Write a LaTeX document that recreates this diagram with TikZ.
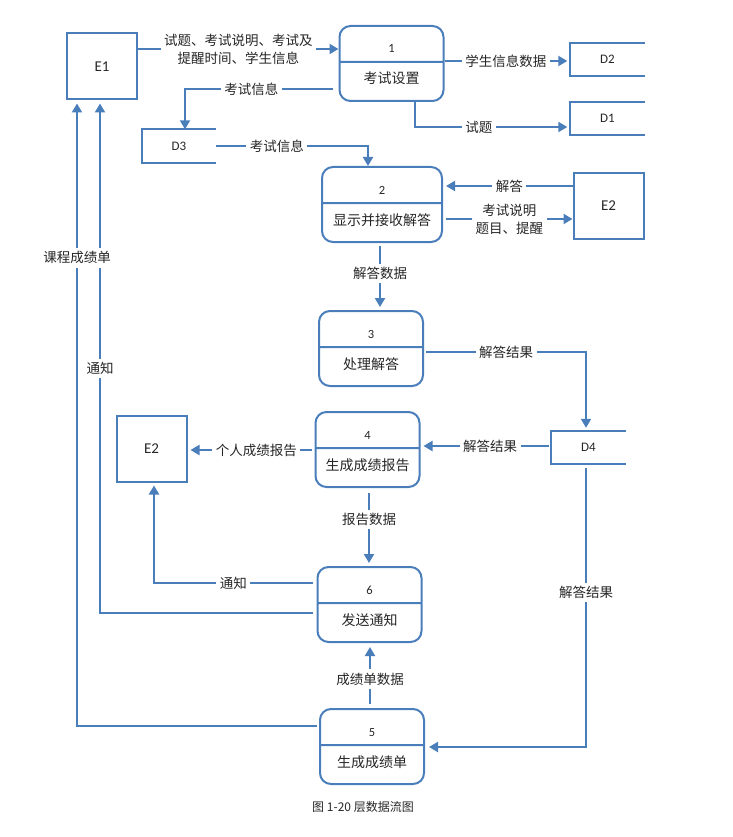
\documentclass[tikz,border=0pt]{standalone}
\usepackage{fontspec}
\setmainfont{Carlito}
\newfontfamily\cjk{Noto Sans CJK SC}
\usepackage{tikz}
\usetikzlibrary{arrows.meta,calc,shapes.multipart}

\definecolor{dfblue}{HTML}{4A7EBB}
\newcommand{\pnum}[1]{\fontsize{12.5}{14}\selectfont #1\rule[-8pt]{0pt}{34pt}}
\newcommand{\pname}[1]{\cjk\fontsize{14}{16}\selectfont #1\rule[-16pt]{0pt}{37pt}}

\tikzset{
  proc/.style={draw=dfblue, line width=2pt, rounded corners=11pt,
    rectangle split, rectangle split parts=2, inner sep=0pt,
    minimum width=104pt, anchor=north, text=black!85},
  ext/.style={draw=dfblue, line width=2pt, minimum width=70pt,
    minimum height=66pt, font=\fontsize{15}{17}\selectfont, text=black!85},
  store/.style={minimum width=74pt, minimum height=33pt,
    font=\fontsize{13}{15}\selectfont, text=black!85},
  flow/.style={draw=dfblue, line width=2pt, -{Triangle[length=9pt,width=10pt]}},
  lbl/.style={fill=white, inner sep=3.5pt, align=center, text=black!85,
    font=\cjk\fontsize{13.5}{18}\selectfont}
}

\begin{document}
\begin{tikzpicture}[x=1pt,y=-1pt]
    \useasboundingbox (0,0) rectangle (732,837);

    % External entities
    \node[ext] (e1) at (102,66.5) {E1};
    \node[ext] (e2r) at (608.5,206) {E2};
    \node[ext] (e2l) at (151.5,448.5) {E2};

    % Data stores
    \node[store] (d2) at (607.5,59.5) {D2};
    \node[store] (d1) at (607.5,118.5) {D1};
    \node[store] (d3) at (179,146) {D3};
    \node[store] (d4) at (588.5,447.5) {D4};
    \foreach \d in {d1,d2,d3,d4}
        \draw[dfblue, line width=2pt] (\d.north east) -| (\d.south west) -- (\d.south east);

    % Processes
    \node[proc] (p1) at (391.5,25) {\pnum{1}\nodepart{two}\pname{考试设置}};
    \node[proc, minimum width=120pt] (p2) at (382,166) {\pnum{2}\nodepart{two}\pname{显示并接收解答}};
    \node[proc] (p3) at (371,310) {\pnum{3}\nodepart{two}\pname{处理解答}};
    \node[proc] (p4) at (367.5,411) {\pnum{4}\nodepart{two}\pname{生成成绩报告}};
    \node[proc] (p6) at (369.5,566) {\pnum{6}\nodepart{two}\pname{发送通知}};
    \node[proc] (p5) at (372,708) {\pnum{5}\nodepart{two}\pname{生成成绩单}};

    % Flows around process 1
    \draw[flow] ($(e1.east)+(0,-17.5)$) -- node[lbl] {试题、考试说明、考试及\\提醒时间、学生信息} ($(p1.north west)+(0,24)$);
    \draw[flow] ($(p1.north west)+(-6,64)$) -| node[lbl, pos=0.275] {考试信息} ($(d3.north)+(6,0)$);
    \draw[flow] ($(p1.north east)+(0,36)$) -- node[lbl] {学生信息数据} ($(d2.west)+(-3,1.5)$);
    \draw[flow] ($(p1.south)+(23.5,0)$) |- node[lbl, pos=0.71] {试题} ($(d1.west)+(-3,8.5)$);

    % Flows around process 2
    \draw[flow] (d3.east) -| node[lbl, pos=0.2] {考试信息} ($(p2.north)+(-14,0)$);
    \draw[flow] ($(e2r.west)+(0,-20)$) -- node[lbl] {解答} ($(p2.north east)+(3,20)$);
    \draw[flow] ($(p2.north east)+(3,53)$) -- node[lbl] {考试说明\\题目、提醒} ($(e2r.west)+(0,13)$);
    \draw[flow] ($(p2.south)+(-2,3)$) -- node[lbl, pos=0.45] {解答数据} ($(p3.north)+(9,-3)$);

    % Flows around processes 3 and 4
    \draw[flow] ($(p3.north east)+(2,42)$) -| node[lbl, pos=0.25] {解答结果} ($(d4.north)+(-2.5,-3)$);
    \draw[flow] ($(d4.west)+(-2,-1.5)$) -- node[lbl, pos=0.47] {解答结果} ($(p4.north east)+(3,35)$);
    \draw[flow] ($(p4.north west)+(-3,39)$) -- node[lbl, pos=0.455] {个人成绩报告} ($(e2l.east)+(3,1.5)$);
    \draw[flow] ($(p4.south)+(1.5,5)$) -- node[lbl, pos=0.38] {报告数据} ($(p6.north)+(-0.5,-3)$);

    % Flows around processes 6 and 5
    \draw[flow] ($(p6.north west)+(-4,17)$) -| node[lbl, pos=0.25] {通知} ($(e2l.south)+(2.5,3)$);
    \draw[flow] ($(p6.north west)+(-4,47)$) -| node[lbl, pos=0.74] {通知} ($(e1.south)+(-2,3)$);
    \draw[flow] ($(p5.north west)+(-2,18)$) -| node[lbl, pos=0.876] {课程成绩单} ($(e1.south)+(-25,3)$);
    \draw[flow] ($(d4.south)+(-2.5,4)$) |- node[lbl, pos=0.223] {解答结果} ($(p5.north east)+(4,39)$);
    \draw[flow] ($(p5.north)+(-2,-4)$) -- node[lbl, pos=0.44] {成绩单数据} ($(p6.south)+(0.5,4)$);

    % Caption
    \node[font=\cjk\fontsize{12}{14}\selectfont, text=black!85] (cap) at (363,807) {图 1-20 层数据流图};
\end{tikzpicture}
\end{document}
